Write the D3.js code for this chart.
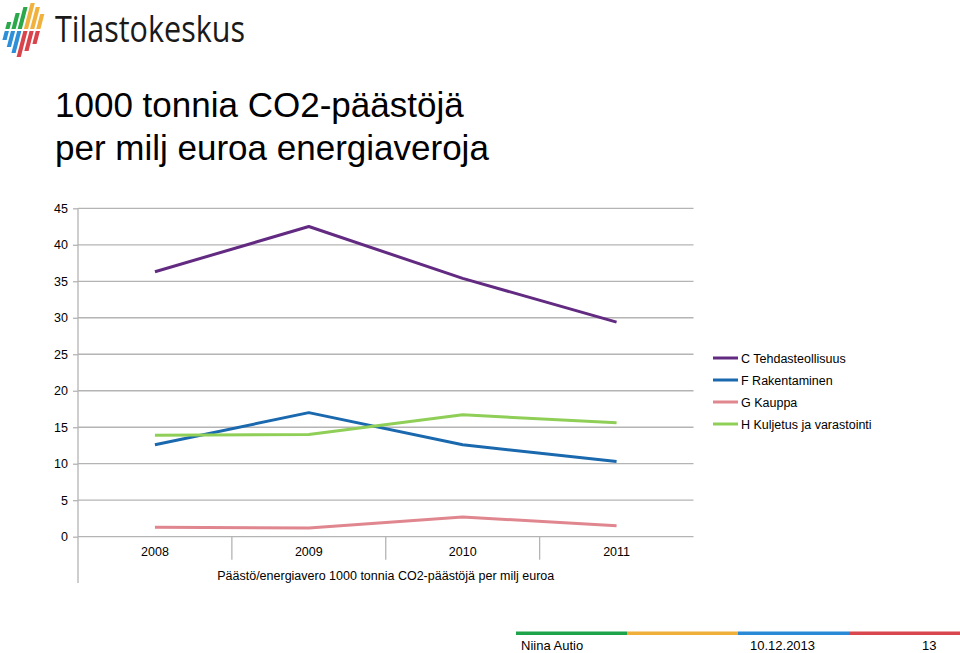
<!DOCTYPE html>
<html>
<head>
<meta charset="utf-8">
<script src="https://cdn.jsdelivr.net/npm/d3@7"></script>
<style>
  html, body { margin: 0; padding: 0; background: #fff; }
  svg { display: block; }
</style>
</head>
<body>
<svg id="chart" width="960" height="653"></svg>
<script>
// ---- data ----
const years = ["2008", "2009", "2010", "2011"];
const seriesNames = ["C Tehdasteollisuus", "F Rakentaminen", "G Kauppa", "H Kuljetus ja varastointi"];
const valuesC = [36.3, 42.5, 35.4, 29.4];
const valuesF = [12.6, 17.0, 12.6, 10.3];
const valuesG = [1.3, 1.2, 2.7, 1.5];
const valuesH = [13.9, 14.0, 16.7, 15.6];
const yTicks = [0, 5, 10, 15, 20, 25, 30, 35, 40, 45];
const colors = ["#632a82", "#1a68ad", "#e0868f", "#8fcf58"];
const titleLines = ["1000 tonnia CO2-päästöjä", "per milj euroa energiaveroja"];
const axisTitle = "Päästö/energiavero 1000 tonnia CO2-päästöjä per milj euroa";
const footerTexts = ["Niina Autio", "10.12.2013", "13"];
const footerColors = ["#1da34a", "#f0ae3a", "#2a8ad6", "#d8474d"];

const series = [valuesC, valuesF, valuesG, valuesH].map((v, i) => ({ name: seriesNames[i], values: v, color: colors[i] }));

const svg = d3.select("#chart");
const font = "'Liberation Sans', Arial, sans-serif";

// ---- logo ----
const logo = svg.append("g");
const barTops = [22, 13, 7, 3, 7, 14];
const barBots = [40, 47, 53, 57, 51, 44];
barTops.forEach((t, i) => {
  const x = 5 + i * 6.2;
  const skew = 0.26;
  const mid = 30;
  const topColor = i < 3 ? "#2aa84a" : "#f0b23c";
  const botColor = i < 3 ? "#2d8fd8" : "#d9434b";
  const para = (y1, y2, w) => {
    const dx1 = (mid - y1) * skew, dx2 = (mid - y2) * skew;
    return `M${x + dx1},${y1} L${x + dx1 + w},${y1} L${x + dx2 + w},${y2} L${x + dx2},${y2} Z`;
  };
  logo.append("path").attr("d", para(t, mid - 1, 4.2)).attr("fill", topColor);
  logo.append("path").attr("d", para(mid + 1, barBots[i], 4.2)).attr("fill", botColor);
});
logo.append("text")
  .attr("x", 55).attr("y", 42)
  .attr("font-family", "'Open Sans', 'Noto Sans', sans-serif")
  .attr("font-size", 36)
  .attr("fill", "#1a1a1a")
  .attr("textLength", 190)
  .attr("lengthAdjust", "spacingAndGlyphs")
  .text("Tilastokeskus");

// ---- title ----
svg.append("g").selectAll("text").data(titleLines).join("text")
  .attr("x", 55)
  .attr("y", (d, i) => 117 + i * 43)
  .attr("font-family", font)
  .attr("font-size", 35)
  .attr("fill", "#000")
  .text(d => d);

// ---- scales ----
const x = d3.scaleBand().domain(years).range([78, 693.5]);
const y = d3.scaleLinear().domain([0, 45]).range([536.7, 208.3]);

// gridlines
svg.append("g").selectAll("line").data(yTicks).join("line")
  .attr("x1", 78).attr("x2", 693.5)
  .attr("y1", d => y(d)).attr("y2", d => y(d))
  .attr("stroke", "#b4b4b4").attr("stroke-width", 1.3);

// y axis
const yAxis = d3.axisLeft(y).tickValues(yTicks).tickSize(5).tickPadding(5);
const gy = svg.append("g").attr("transform", "translate(78,0)").call(yAxis);
gy.select(".domain").remove();
gy.selectAll(".tick line").attr("stroke", "#b4b4b4").attr("stroke-width", 1.3);
gy.selectAll(".tick text").attr("font-family", font).attr("font-size", 12.5).attr("fill", "#000");
svg.append("line").attr("x1", 78).attr("x2", 78).attr("y1", y(45)).attr("y2", 583)
  .attr("stroke", "#b4b4b4").attr("stroke-width", 1.3);

// category axis (multi-level look)
const gx = svg.append("g").attr("transform", `translate(0,${y(0)})`)
  .call(d3.axisBottom(x).tickSize(0).tickPadding(10));
gx.select(".domain").remove();
gx.selectAll(".tick text").attr("font-family", font).attr("font-size", 12.5).attr("fill", "#000");
svg.append("g").selectAll("line").data(years.slice(1)).join("line")
  .attr("x1", d => x(d)).attr("x2", d => x(d))
  .attr("y1", y(0)).attr("y2", y(0) + 23)
  .attr("stroke", "#b4b4b4").attr("stroke-width", 1.3);
svg.append("text")
  .attr("x", (x.range()[0] + x.range()[1]) / 2).attr("y", 580)
  .attr("text-anchor", "middle")
  .attr("font-family", font).attr("font-size", 12.5).attr("fill", "#000")
  .text(axisTitle);

// lines
const line = d3.line().x((d, i) => x(years[i]) + x.bandwidth() / 2).y(d => y(d));
svg.append("g").selectAll("path").data(series).join("path")
  .attr("d", d => line(d.values))
  .attr("fill", "none")
  .attr("stroke", d => d.color)
  .attr("stroke-width", 3)
  .attr("stroke-linejoin", "round");

// legend
const lg = svg.append("g").selectAll("g").data(series).join("g")
  .attr("transform", (d, i) => `translate(713,${358 + i * 22})`);
lg.append("line").attr("x1", 0).attr("x2", 25).attr("y1", 0).attr("y2", 0)
  .attr("stroke", d => d.color).attr("stroke-width", 3);
lg.append("text").attr("x", 28).attr("y", 4.5)
  .attr("font-family", font).attr("font-size", 12.5).attr("fill", "#000")
  .text(d => d.name);

// footer
const segW = (960 - 516) / 4;
svg.append("g").selectAll("rect").data(footerColors).join("rect")
  .attr("x", (d, i) => 516 + i * segW).attr("y", 631.5)
  .attr("width", segW).attr("height", 3.5)
  .attr("fill", d => d);
const footerX = [521, 750, 922];
svg.append("g").selectAll("text").data(footerTexts).join("text")
  .attr("x", (d, i) => footerX[i]).attr("y", 650)
  .attr("font-family", font).attr("font-size", 13).attr("fill", "#000")
  .text(d => d);
</script>
</body>
</html>
